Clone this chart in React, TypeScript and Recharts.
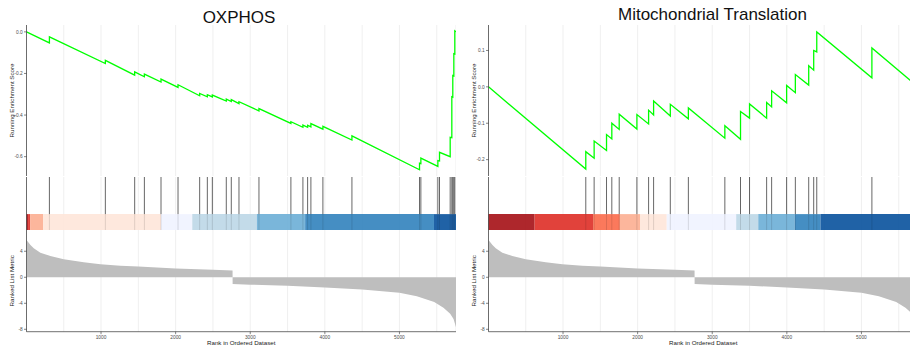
import {
  Area,
  AreaChart,
  CartesianGrid,
  ComposedChart,
  Line,
  LineChart,
  ReferenceArea,
  ReferenceLine,
  XAxis,
  YAxis,
} from 'recharts'

// ranked gene list (shared by both gene sets)
const N_GENES = 5758
const gridTicks = [500, 1000, 1500, 2000, 2500, 3000, 3500, 4000, 4500, 5000, 5500]
const metricTicks = [-8, -4, 0, 4]

const metricRanks = [1, 54, 98, 187, 321, 500, 768, 991, 1259, 1500, 2000, 2500, 2763, 2764, 3000, 3500, 4000, 4500, 5000, 5233, 5466, 5590, 5680, 5725, 5758]
const metricValues = [5.74, 4.97, 4.46, 3.79, 3.28, 2.77, 2.3, 2.0, 1.79, 1.66, 1.35, 1.14, 1.04, -1.04, -1.14, -1.3, -1.56, -1.87, -2.39, -2.9, -3.8, -4.68, -5.6, -6.4, -7.7]

// OXPHOS
const oxphosHits = [308, 1058, 1451, 1581, 1804, 2032, 2322, 2425, 2492, 2679, 2746, 2849, 3117, 3545, 3706, 3769, 3813, 3974, 4363, 5269, 5287, 5515, 5537, 5680, 5702, 5715, 5729, 5742]
const oxphosLow = [-0.053, -0.152, -0.208, -0.216, -0.241, -0.267, -0.307, -0.312, -0.313, -0.333, -0.335, -0.345, -0.38, -0.44, -0.459, -0.459, -0.457, -0.468, -0.52, -0.663, -0.633, -0.647, -0.621, -0.6, -0.509, -0.314, -0.212, -0.107]
const oxphosHigh = [-0.024, -0.137, -0.192, -0.203, -0.227, -0.254, -0.296, -0.302, -0.304, -0.323, -0.326, -0.336, -0.369, -0.432, -0.448, -0.449, -0.441, -0.454, -0.5, -0.631, -0.607, -0.619, -0.579, -0.507, -0.312, -0.21, -0.105, 0.005]
const oxphosTicks = [-0.6, -0.4, -0.2, 0]
const oxphosBarEdges = [1, 22, 50, 223, 1804, 2223, 3089, 3736, 5463, 5758]
const oxphosBarColors = ['#A50F15', '#DE2D26', '#FCAE91', '#FEE5D9', '#EFF3FF', '#BDD7E7', '#6BAED6', '#3182BD', '#08519C']

// Mitochondrial Translation
const mitoHits = [1305, 1417, 1583, 1654, 1753, 1990, 2147, 2214, 2438, 2680, 3169, 3379, 3500, 3729, 3796, 3997, 4114, 4293, 4360, 4401, 5140]
const mitoLow = [-0.226, -0.196, -0.175, -0.143, -0.117, -0.116, -0.102, -0.077, -0.08, -0.088, -0.141, -0.144, -0.086, -0.086, -0.055, -0.044, -0.016, 0.005, 0.046, 0.096, 0.025]
const mitoHigh = [-0.178, -0.149, -0.131, -0.1, -0.075, -0.076, -0.064, -0.039, -0.048, -0.058, -0.107, -0.068, -0.047, -0.043, -0.011, 0.004, 0.034, 0.058, 0.1, 0.151, 0.107]
const mitoTicks = [-0.2, -0.1, 0, 0.1]
const mitoBarEdges = [1, 619, 1403, 1762, 2035, 2390, 3321, 3617, 4105, 4451, 5758]
const mitoBarColors = ['#A50F15', '#DE2D26', '#FB6A4A', '#FCAE91', '#FEE5D9', '#EFF3FF', '#BDD7E7', '#6BAED6', '#3182BD', '#08519C']

const FONT = '"Liberation Sans", Arial, Helvetica, sans-serif'
const AXIS_W = 26.5
const PLOT_W = 429.5
const CHART_W = AXIS_W + PLOT_W
const ES_TOP = 25
const ES_H = 151
const HIT_TOP = 176.5
const HIT_H = 53
const RANK_TOP = 230
const RANK_PLOT_H = 101.7
const RANK_AXIS_H = 15.3
const GRID = '#EBEBEB'
const AXIS = '#333333'
const TICK_TEXT = { fontSize: 4.8, fill: '#4D4D4D' }
const TITLE_TEXT = { fontSize: 6.2, fill: '#1A1A1A', textAnchor: 'middle' as const }
const NO_MARGIN = { top: 0, right: 0, bottom: 0, left: 0 }

const metricData = metricRanks.map((rank, i) => ({ rank, metric: metricValues[i] }))

// running enrichment score: drops between hits, jumps up at each hit
function runningScore(hits: number[], low: number[], high: number[]) {
  const pts = [{ rank: 1, es: 0 }]
  hits.forEach((rank, i) => {
    pts.push({ rank, es: low[i] })
    pts.push({ rank, es: high[i] })
  })
  pts.push({ rank: N_GENES, es: 0 })
  return pts
}

// only the thousands get a tick mark and a label, the 500s are grid lines only
const RankTick = (props: { x?: number; y?: number; payload?: { value: number } }) => {
  const { x = 0, y = 0, payload } = props
  if (!payload || payload.value % 1000 !== 0) return <g />
  return (
    <g>
      <line x1={x} x2={x} y1={y} y2={y + 2.5} stroke={AXIS} strokeWidth={0.6} />
      <text x={x} y={y + 7.4} textAnchor="middle" fontSize={4.8} fill="#4D4D4D">
        {payload.value}
      </text>
    </g>
  )
}

interface GseaProps {
  left: number
  title: string
  titleX: number
  titleY: number
  hits: number[]
  low: number[]
  high: number[]
  esDomain: [number, number]
  esTicks: number[]
  barEdges: number[]
  barColors: string[]
}

function GseaPlot({ left, title, titleX, titleY, hits, low, high, esDomain, esTicks, barEdges, barColors }: GseaProps) {
  const esData = runningScore(hits, low, high)
  const hitData = hits.map((rank) => ({ rank }))

  return (
    <div style={{ position: 'absolute', left, top: 0, width: CHART_W, height: 347 }}>
      <svg width={CHART_W} height={32} style={{ position: 'absolute', left: 0, top: 0 }}>
        <text x={titleX - left} y={titleY} textAnchor="middle" fontSize={17} fill="#111">
          {title}
        </text>
      </svg>

      {/* running enrichment score */}
      <div style={{ position: 'absolute', left: 0, top: ES_TOP }}>
        <LineChart width={CHART_W} height={ES_H} data={esData} margin={NO_MARGIN}>
          <CartesianGrid horizontal={false} stroke={GRID} strokeWidth={0.8} />
          <XAxis type="number" dataKey="rank" domain={[1, N_GENES]} ticks={gridTicks} allowDataOverflow hide />
          <YAxis
            width={AXIS_W}
            domain={esDomain}
            ticks={esTicks}
            allowDataOverflow
            tickFormatter={(v: number) => v.toFixed(1)}
            tick={TICK_TEXT}
            tickSize={2.5}
            tickMargin={1.3}
            axisLine={{ stroke: AXIS, strokeWidth: 0.7 }}
            tickLine={{ stroke: AXIS, strokeWidth: 0.6 }}
            label={{ value: 'Running Enrichment Score', angle: -90, position: 'insideLeft', offset: 11.7, style: TITLE_TEXT }}
          />
          <Line
            type="linear"
            dataKey="es"
            stroke="#00FF00"
            strokeWidth={1.3}
            dot={false}
            isAnimationActive={false}
          />
        </LineChart>
      </div>

      {/* gene set hits and rank colour bar */}
      <div style={{ position: 'absolute', left: 0, top: HIT_TOP }}>
        <ComposedChart width={CHART_W} height={HIT_H} data={hitData} margin={NO_MARGIN}>
          <CartesianGrid horizontal={false} stroke={GRID} strokeWidth={0.8} />
          <XAxis type="number" dataKey="rank" domain={[1, N_GENES]} ticks={gridTicks} allowDataOverflow hide />
          <YAxis
            width={AXIS_W}
            domain={[0, 1]}
            allowDataOverflow
            tick={false}
            tickLine={false}
            axisLine={{ stroke: AXIS, strokeWidth: 0.7 }}
          />
          {hits.map((rank) => (
            <ReferenceLine
              key={`up-${rank}`}
              segment={[
                { x: rank, y: 0.3 },
                { x: rank, y: 1 },
              ]}
              stroke="#000"
              strokeOpacity={0.6}
              strokeWidth={1}
            />
          ))}
          {barColors.map((color, i) => (
            <ReferenceArea
              key={`bar-${i}`}
              x1={barEdges[i]}
              x2={barEdges[i + 1]}
              y1={0}
              y2={0.3}
              fill={color}
              fillOpacity={0.9}
              stroke="none"
            />
          ))}
          {hits.map((rank) => (
            <ReferenceLine
              key={`low-${rank}`}
              segment={[
                { x: rank, y: 0 },
                { x: rank, y: 0.3 },
              ]}
              stroke="#000"
              strokeOpacity={0.12}
              strokeWidth={1}
            />
          ))}
        </ComposedChart>
      </div>

      {/* ranked list metric */}
      <div style={{ position: 'absolute', left: 0, top: RANK_TOP }}>
        <AreaChart width={CHART_W} height={RANK_PLOT_H + RANK_AXIS_H} data={metricData} margin={NO_MARGIN}>
          <CartesianGrid horizontal={false} stroke={GRID} strokeWidth={0.8} />
          <XAxis
            type="number"
            dataKey="rank"
            domain={[1, N_GENES]}
            ticks={gridTicks}
            allowDataOverflow
            height={RANK_AXIS_H}
            tick={<RankTick />}
            tickSize={0}
            tickMargin={0}
            tickLine={false}
            axisLine={{ stroke: AXIS, strokeWidth: 0.7 }}
            label={{ value: 'Rank in Ordered Dataset', position: 'insideBottom', offset: 2, style: TITLE_TEXT }}
          />
          <YAxis
            width={AXIS_W}
            domain={[-8.37, 7.27]}
            ticks={metricTicks}
            allowDataOverflow
            tick={TICK_TEXT}
            tickSize={2.5}
            tickMargin={1.3}
            axisLine={{ stroke: AXIS, strokeWidth: 0.7 }}
            tickLine={{ stroke: AXIS, strokeWidth: 0.6 }}
            label={{ value: 'Ranked List Metric', angle: -90, position: 'insideLeft', offset: 11.7, style: TITLE_TEXT }}
          />
          <Area
            type="linear"
            dataKey="metric"
            baseValue={0}
            fill="#BEBEBE"
            fillOpacity={1}
            stroke="none"
            isAnimationActive={false}
          />
        </AreaChart>
      </div>
    </div>
  )
}

export default function App() {
  return (
    <div
      style={{
        position: 'fixed',
        left: 0,
        top: 0,
        width: 910,
        height: 347,
        overflow: 'hidden',
        background: '#fff',
        fontFamily: FONT,
      }}
    >
      <GseaPlot
        left={0}
        title="OXPHOS"
        titleX={239}
        titleY={23.3}
        hits={oxphosHits}
        low={oxphosLow}
        high={oxphosHigh}
        esDomain={[-0.693, 0.033]}
        esTicks={oxphosTicks}
        barEdges={oxphosBarEdges}
        barColors={oxphosBarColors}
      />
      <GseaPlot
        left={461.5}
        title="Mitochondrial Translation"
        titleX={712}
        titleY={20.3}
        hits={mitoHits}
        low={mitoLow}
        high={mitoHigh}
        esDomain={[-0.245, 0.17]}
        esTicks={mitoTicks}
        barEdges={mitoBarEdges}
        barColors={mitoBarColors}
      />
    </div>
  )
}
